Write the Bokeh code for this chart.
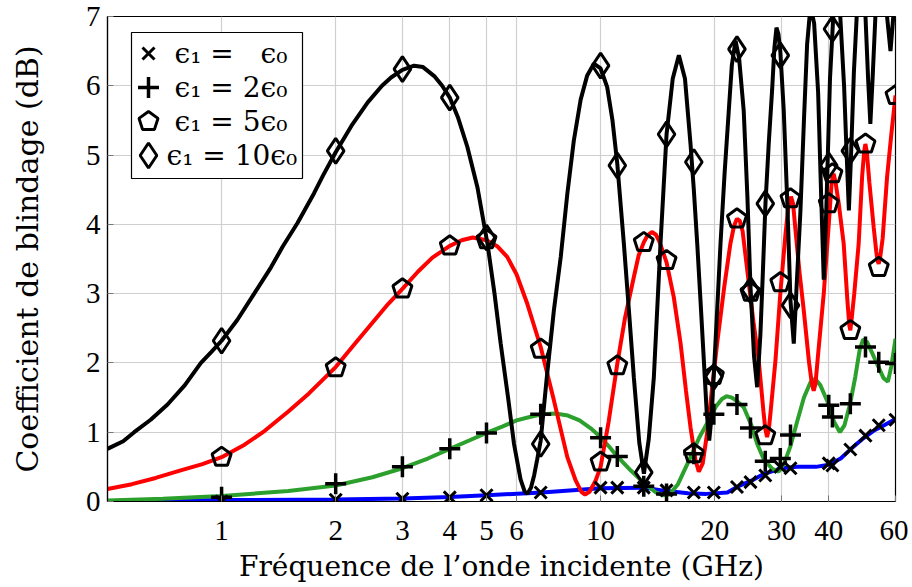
import math
from bokeh.plotting import figure
from bokeh.models import (FixedTicker, PrintfTickFormatter, Range1d, LinearScale, Label)
from bokeh.embed import file_html
from bokeh.resources import INLINE

# ---------------- data ----------------
blue_x = [0.5, 1, 2, 3, 4, 5, 7, 10, 13, 15, 17, 19, 21.6, 23.3, 25, 27, 30, 33, 37, 40, 43, 45.8, 49, 52.5, 56, 60]
blue_y = [0.005, 0.02, 0.03, 0.045, 0.065, 0.09, 0.13, 0.19, 0.2, 0.15, 0.12, 0.11, 0.13, 0.23, 0.3, 0.4, 0.48, 0.5, 0.5, 0.53, 0.62, 0.76, 0.9, 1.02, 1.1, 1.19]

green_x = [0.5, 0.7, 1, 1.5, 2, 2.5, 3, 3.5, 4, 4.5,
           5, 5.5, 6, 6.5, 7, 7.6, 8.2, 8.8, 9.4, 10,
           10.5, 11.07, 12, 13, 14, 14.6, 15.2, 16, 17.2, 18.2,
           19.2, 20.2, 20.9, 21.5, 22.2, 23.0, 23.86, 25, 25.9, 27,
           28.4, 29.5, 30.5, 31.7, 33, 34.4, 35.8, 36.8, 38, 39.7,
           41.3, 42.8, 44, 45.5, 47, 48.3, 49.3, 50.5, 52, 54,
           55.8, 57.3, 58.5, 60]
green_y = [0.015, 0.04, 0.08, 0.15, 0.23, 0.35, 0.48, 0.62, 0.76, 0.88,
           0.99, 1.08, 1.17, 1.22, 1.26, 1.27, 1.24, 1.17, 1.06, 0.93,
           0.8, 0.65, 0.45, 0.27, 0.13, 0.09, 0.1, 0.25, 0.62, 0.92,
           1.15, 1.38, 1.48, 1.52, 1.5, 1.44, 1.36, 1.1, 0.83, 0.6,
           0.47, 0.43, 0.55, 0.8, 1.15, 1.5, 1.72, 1.77, 1.68, 1.44,
           1.15, 1.0, 1.1, 1.4, 1.8, 2.2, 2.34, 2.3, 2.15, 1.95,
           1.78, 1.73, 1.95, 2.35]

red_x = [0.5, 0.58, 0.67, 0.78, 0.89, 1.0, 1.15, 1.3, 1.5, 1.7,
         2.0, 2.25, 2.5, 2.75, 3.0, 3.3, 3.6, 4.0, 4.3, 4.6,
         5.0, 5.35, 5.67, 6.0, 6.41, 6.95, 7.53, 8.17, 8.6, 8.9,
         9.1, 9.35, 9.7, 10.0, 10.5, 11.07, 11.6, 12.24, 12.6, 13.0,
         13.3, 13.66, 14.0, 14.3, 14.93, 15.6, 16.26, 16.8, 17.27, 17.8,
         18.16, 18.6, 19.2, 19.7, 20.3, 21.2, 22.0, 22.5, 22.9, 23.3,
         23.7, 24.5, 25.3, 26.14, 26.9, 27.2, 27.5, 27.8, 28.1, 28.93,
         29.8, 30.74, 31.3, 31.8, 32.2, 32.7, 33.5, 34.36, 35.5, 36.1,
         36.5, 36.9, 37.6, 38.8, 40.0, 40.7, 41.2, 41.7, 42.5, 43.8,
         44.8, 45.3, 45.6, 45.9, 46.7, 47.97, 49.0, 49.6, 49.96, 50.4,
         51.2, 52.55, 53.4, 53.8, 54.17, 54.6, 55.5, 57.0, 58.5, 60]
red_y = [0.18, 0.25, 0.34, 0.45, 0.54, 0.64, 0.82, 1.02, 1.3, 1.56,
         1.94, 2.28, 2.58, 2.85, 3.07, 3.32, 3.52, 3.69, 3.77, 3.81,
         3.77, 3.68, 3.53, 3.28, 2.85, 2.23, 1.46, 0.64, 0.3, 0.14,
         0.1, 0.14, 0.3, 0.5, 1.15, 1.99, 2.65, 3.24, 3.55, 3.74,
         3.84, 3.89, 3.85, 3.75, 3.45, 2.95, 2.28, 1.6, 1.07, 0.6,
         0.43, 0.55, 1.07, 1.65, 2.28, 3.1, 3.72, 3.98, 4.08, 4.05,
         3.9, 3.24, 2.6, 2.03, 1.3, 1.05, 0.93, 1.05, 1.3, 2.03,
         3.0, 3.85, 4.25, 4.4, 4.3, 3.9, 3.3, 2.76, 2.0, 1.7,
         1.6, 1.7, 2.2, 3.0, 4.0, 4.6, 4.73, 4.6, 4.3, 3.72,
         2.9, 2.55, 2.47, 2.6, 3.0, 3.72, 4.7, 5.05, 5.16, 5.05,
         4.6, 3.96, 3.6, 3.48, 3.43, 3.5, 3.8, 4.68, 5.3, 5.86]

black_x = [0.5, 0.55, 0.588, 0.65, 0.72, 0.8, 0.882, 0.94, 1.0, 1.1,
           1.219, 1.35, 1.45, 1.586, 1.754, 1.85, 2.0, 2.2, 2.43, 2.65,
           2.8, 3.0, 3.22, 3.4, 3.64, 3.82, 4.0, 4.2, 4.45, 4.73,
           5.03, 5.25, 5.45, 5.7, 5.91, 6.15, 6.3, 6.41, 6.55, 6.68,
           6.8, 6.95, 7.2, 7.53, 7.85, 8.17, 8.5, 8.86, 9.22, 9.6,
           10.0, 10.41, 10.75, 11.07, 11.52, 11.9, 12.24, 12.65, 13.01, 13.4,
           13.82, 14.1, 14.39, 14.93, 15.5, 16.09, 16.7, 17.27, 17.62, 17.99,
           18.35, 18.73, 19.05, 19.35, 19.6, 19.89, 20.3, 20.72, 21.25, 21.79,
           22.2, 22.7, 23.2, 23.86, 24.4, 24.86, 25.4, 25.89, 26.4, 26.8,
           27.23, 27.8, 28.36, 28.75, 29.11, 29.45, 29.8, 30.43, 31.1, 31.7,
           32.34, 32.9, 33.68, 34.4, 35.07, 35.8, 36.6, 37.5, 38.2, 38.8,
           39.4, 40.3, 41.2, 41.9, 42.9, 43.9, 44.6, 45.2, 45.8, 46.6,
           47.5, 48.6, 50.0, 50.8, 51.5, 52.2, 53.1, 55.0, 57.0, 57.6,
           58.2, 58.7, 59.2, 60]
black_y = [0.76, 0.87, 1.0, 1.18, 1.4, 1.68, 2.0, 2.16, 2.32, 2.62,
           3.0, 3.38, 3.68, 4.02, 4.45, 4.7, 5.04, 5.42, 5.76, 6.0,
           6.12, 6.23, 6.29, 6.27, 6.14, 6.0, 5.83, 5.55, 5.12, 4.54,
           3.72, 3.0, 2.28, 1.5, 0.83, 0.32, 0.15, 0.11, 0.2, 0.38,
           0.6, 0.88, 1.75, 2.76, 3.53, 4.44, 5.21, 5.8, 6.15, 6.32,
           6.25, 5.98, 5.5, 4.87, 3.72, 2.7, 1.79, 0.85, 0.4, 0.9,
           1.79, 2.75, 3.72, 5.3, 6.1, 6.44, 6.1, 5.16, 4.5, 3.72,
           2.9, 2.03, 1.3, 0.88, 1.2, 1.82, 2.75, 3.72, 4.75, 5.64,
           6.3, 6.65, 6.4, 5.64, 4.4, 3.1, 2.1, 1.65, 2.4, 3.3,
           4.3, 5.2, 5.95, 6.55, 6.84, 6.75, 6.5, 5.64, 4.3, 2.9,
           2.28, 3.1, 4.2, 5.5, 6.6, 7.15, 6.9, 5.9, 4.4, 3.2,
           4.2, 6.1, 7.1, 7.35, 7.0, 6.0, 5.0, 4.2, 5.0, 6.2,
           7.1, 7.6, 7.0, 6.1, 5.45, 6.1, 7.0, 7.9, 7.0, 6.75,
           6.5, 6.75, 7.0, 7.4]

# marker samples
mk_x = [1, 2, 3, 4, 5, 6.95, 10, 11.07, 13.0, 14.93, 17.62, 19.9, 22.9, 24.86, 27.2, 29.8, 31.7, 40.0, 40.9, 45.6, 50, 54.2, 60]
blue_my = [0.0, 0.025, 0.04, 0.06, 0.09, 0.13, 0.2, 0.2, 0.2, 0.16, 0.13, 0.13, 0.21, 0.28, 0.375, 0.5, 0.48, 0.55, 0.52, 0.75, 0.95, 1.1, 1.18]
green_my = [0.06, 0.255, 0.5, 0.76, 0.99, 1.26, 0.92, 0.65, 0.22, 0.11, 0.69, 1.26, 1.4, 1.06, 0.58, 0.62, 0.96, 1.39, 1.22, 1.41, 2.23, 2.01, 1.99]
red_my = [0.64, 1.93, 3.07, 3.69, 3.78, 2.2, 0.57, 1.96, 3.74, 3.48, 0.69, 1.82, 4.08, 3.02, 0.95, 3.16, 4.37, 4.3, 4.73, 2.47, 5.16, 3.38, 5.86]
black_mk_x = [1, 2, 3, 4, 5, 6.95, 10, 11.07, 13.0, 14.93, 17.62, 19.9, 22.9, 24.86, 27.2, 29.8, 31.7, 40.0, 40.9, 45.6]
black_my = [2.32, 5.06, 6.24, 5.83, 3.81, 0.83, 6.29, 4.85, 0.42, 5.3, 4.9, 1.8, 6.53, 3.05, 4.3, 6.44, 2.83, 4.85, 6.82, 5.06]

x_ticks = [1, 2, 3, 4, 5, 6, 10, 20, 30, 40, 60]
y_ticks = [0, 1, 2, 3, 4, 5, 6, 7]

legend_labels = ["ϵ₁ = \u2007ϵ₀", "ϵ₁ = 2ϵ₀", "ϵ₁ = 5ϵ₀", "ϵ₁ = 10ϵ₀"]

# ---------------- figure ----------------
FW, FH = 788, 485
p = figure(frame_width=FW, frame_height=FH, x_axis_type="log",
           x_range=Range1d(0.5, 60), y_range=Range1d(0, 7),
           output_backend="svg", toolbar_location=None,
           min_border_left=107, min_border_right=13, min_border_top=16, min_border_bottom=86,
           background_fill_color="white", border_fill_color="white")
p.outline_line_color = "black"
p.outline_line_width = 1.2

# pixel-like helper ranges for the hand-drawn legend box
p.extra_x_ranges = {"lx": Range1d(0, FW)}
p.extra_y_ranges = {"ly": Range1d(0, FH)}
p.extra_x_scales = {"lx": LinearScale()}
p.extra_y_scales = {"ly": LinearScale()}

TICK_FONT = "Liberation Serif"
LABEL_FONT = "DejaVu Serif"

p.xaxis.ticker = FixedTicker(ticks=x_ticks)
p.xaxis.formatter = PrintfTickFormatter(format="%d")
p.yaxis.ticker = FixedTicker(ticks=y_ticks)
p.yaxis.formatter = PrintfTickFormatter(format="%d")
for ax in (p.xaxis, p.yaxis):
    ax.major_label_text_font = TICK_FONT
    ax.major_label_text_font_size = "29px"
    ax.major_label_text_color = "black"
    ax.axis_label_text_font = LABEL_FONT
    ax.axis_label_text_font_style = "normal"
    ax.axis_label_text_color = "black"
    ax.major_tick_in = 6
    ax.major_tick_out = 0
    ax.major_tick_line_color = "#777777"
    ax.minor_tick_line_color = None
    ax.axis_line_color = "black"
    ax.axis_line_width = 1.2
p.xaxis.axis_label = "Fréquence de l’onde incidente (GHz)"
p.yaxis.axis_label = "Coefficient de blindage (dB)"
p.xaxis.axis_label_text_font_size = "28px"
p.yaxis.axis_label_text_font_size = "30px"
p.xaxis.major_label_standoff = 19
p.xaxis.axis_label_standoff = 7
p.yaxis.major_label_standoff = 7
p.yaxis.axis_label_standoff = 38

p.xgrid.ticker = FixedTicker(ticks=x_ticks)
p.ygrid.ticker = FixedTicker(ticks=y_ticks)
p.grid.grid_line_color = "#cfcfcf"
p.grid.grid_line_width = 1.2

# ---------------- curves ----------------
LW = 4
p.line(blue_x, blue_y, line_color="#0000ff", line_width=LW)
p.line(green_x, green_y, line_color="#2ca02c", line_width=LW)
p.line(red_x, red_y, line_color="#ff0000", line_width=LW)
p.line(black_x, black_y, line_color="black", line_width=LW)

MLW = 3
X_SIZE, PLUS_SIZE, DIAM_SIZE, PENT_R = 17, 21, 25, 10
p.scatter(mk_x, blue_my, marker="x", size=X_SIZE, line_color="black", line_width=MLW)
p.scatter(mk_x, green_my, marker="cross", size=PLUS_SIZE, line_color="black", line_width=MLW + 0.5)


def pentagons(xs, ys, **kw):
    try:
        return p.ngon(x=xs, y=ys, radius=PENT_R, radius_units="screen", n=5, angle=0,
                      fill_color=None, line_color="black", line_width=MLW, **kw)
    except Exception:
        return p.scatter(x=xs, y=ys, marker="hex", size=2 * PENT_R, fill_color=None,
                         line_color="black", line_width=MLW, **kw)


pentagons(mk_x, red_my)
p.scatter(black_mk_x, black_my, marker="diamond", size=DIAM_SIZE, fill_color=None, line_color="black", line_width=MLW)

# ---------------- legend (drawn by hand, in frame pixels) ----------------
rng = dict(x_range_name="lx", y_range_name="ly")
p.quad(left=[24], right=[195], bottom=[323], top=[469], fill_color="white",
       line_color="black", line_width=1.2, **rng)
rows_y = [448, 414, 380, 346]
p.scatter([41], [rows_y[0]], marker="x", size=X_SIZE, line_color="black", line_width=MLW, **rng)
p.scatter([41], [rows_y[1]], marker="cross", size=PLUS_SIZE, line_color="black", line_width=MLW + 0.5, **rng)
pentagons([41], [rows_y[2]], **rng)
p.scatter([41], [rows_y[3]], marker="diamond", size=DIAM_SIZE, fill_color=None, line_color="black", line_width=MLW, **rng)
label_x = [67, 67, 67, 59]
for lx, ly, txt in zip(label_x, rows_y, legend_labels):
    p.add_layout(Label(x=lx, y=ly, text=txt, text_font=LABEL_FONT, text_font_size="28px",
                       text_baseline="middle", text_align="left", text_color="black", **rng))

open("out.html", "w").write(file_html(p, INLINE))
